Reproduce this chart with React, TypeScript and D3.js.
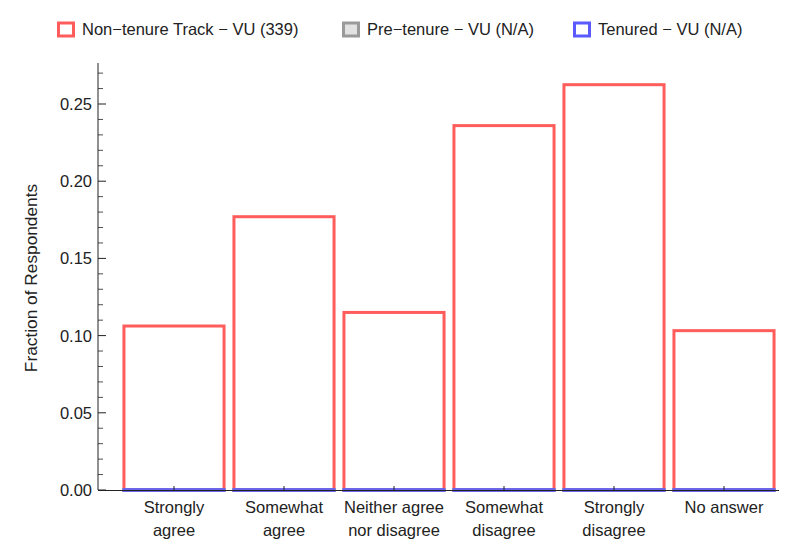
import * as d3 from "d3";

const categories = [
  ["Strongly", "agree"],
  ["Somewhat", "agree"],
  ["Neither agree", "nor disagree"],
  ["Somewhat", "disagree"],
  ["Strongly", "disagree"],
  ["No answer"],
];
const nonTenure = [0.1062, 0.177, 0.115, 0.236, 0.2625, 0.1032];
const preTenure = [0, 0, 0, 0, 0, 0];
const tenured = [0, 0, 0, 0, 0, 0];
const yTicks = [0, 0.05, 0.1, 0.15, 0.2, 0.25];
const legendItems = [
  { label: "Non\u2212tenure Track \u2212 VU (339)", stroke: "#ff5c5c", fill: "#ffffff" },
  { label: "Pre\u2212tenure \u2212 VU (N/A)", stroke: "#9a9a9a", fill: "#e2e2e2" },
  { label: "Tenured \u2212 VU (N/A)", stroke: "#5a5aff", fill: "#ffffff" },
];
const legendX = [58.5, 343.5, 574.5];

const W = 785;
const H = 544;
const font = "'Liberation Sans', Arial, sans-serif";

export default function App() {
  const y = d3.scaleLinear().domain([0, 0.25]).range([490, 104]);
  const x = d3
    .scaleBand<number>()
    .domain(categories.map((_, i) => i))
    .range([119, 779])
    .paddingInner(0.09)
    .paddingOuter(0.045);
  const minor = d3.range(0, 0.2751, 0.01);
  const axisX = 98;

  // red drawn first, the empty series sit on top of its bottom edge
  const series = [
    { values: nonTenure, stroke: "#ff5c5c" },
    { values: preTenure, stroke: "#9a9a9a" },
    { values: tenured, stroke: "#5a5aff" },
  ];

  return (
    <svg
      width={W}
      height={H}
      style={{ position: "absolute", left: 0, top: 0, background: "#fff" }}
      fontFamily={font}
    >
      {/* legend */}
      {legendItems.map((d, i) => {
        const lx = legendX[i];
        return (
          <g key={i}>
            <rect x={lx} y={23} width={15} height={13} fill={d.fill} stroke={d.stroke} strokeWidth={3} />
            <text x={lx + 23.5} y={34.5} fontSize={16.5} fill="#222">
              {d.label}
            </text>
          </g>
        );
      })}

      {/* bars */}
      {series.map((s, si) =>
        s.values.map((v, i) => (
          <rect
            key={`${si}-${i}`}
            x={x(i)!}
            y={y(v) - (v === 0 ? 0.5 : 0)}
            width={x.bandwidth()}
            height={Math.max(y(0) - y(v), 1)}
            fill="none"
            stroke={s.stroke}
            strokeWidth={3}
            strokeOpacity={v === 0 ? 0.8 : 1}
          />
        ))
      )}

      {/* y axis */}
      <line x1={axisX} x2={axisX} y1={63} y2={490} stroke="#222" strokeWidth={1} />
      {minor.map((t, i) => {
        const major = yTicks.some((m) => Math.abs(m - t) < 1e-6);
        return (
          <line
            key={i}
            x1={axisX}
            x2={axisX + (major ? 8 : 5)}
            y1={y(t)}
            y2={y(t)}
            stroke="#222"
            strokeWidth={major ? 1 : 0.8}
          />
        );
      })}
      {yTicks.map((t) => (
        <text key={t} x={92} y={y(t) + 6} fontSize={16.5} textAnchor="end" fill="#222">
          {d3.format(".2f")(t)}
        </text>
      ))}
      <text
        transform={`translate(37,${278}) rotate(-90)`}
        fontSize={17.3}
        textAnchor="middle"
        fill="#222"
      >
        Fraction of Respondents
      </text>

      {/* x axis */}
      <line x1={axisX} x2={779} y1={490.5} y2={490.5} stroke="#222" strokeWidth={1} />
      {categories.map((c, i) => {
        const cx = x(i)! + x.bandwidth() / 2;
        return (
          <g key={i}>
            <line x1={cx} x2={cx} y1={490} y2={486} stroke="#222" />
            {c.map((line, j) => (
              <text key={j} x={cx} y={513 + j * 23} fontSize={16.5} textAnchor="middle" fill="#222">
                {line}
              </text>
            ))}
          </g>
        );
      })}
    </svg>
  );
}
